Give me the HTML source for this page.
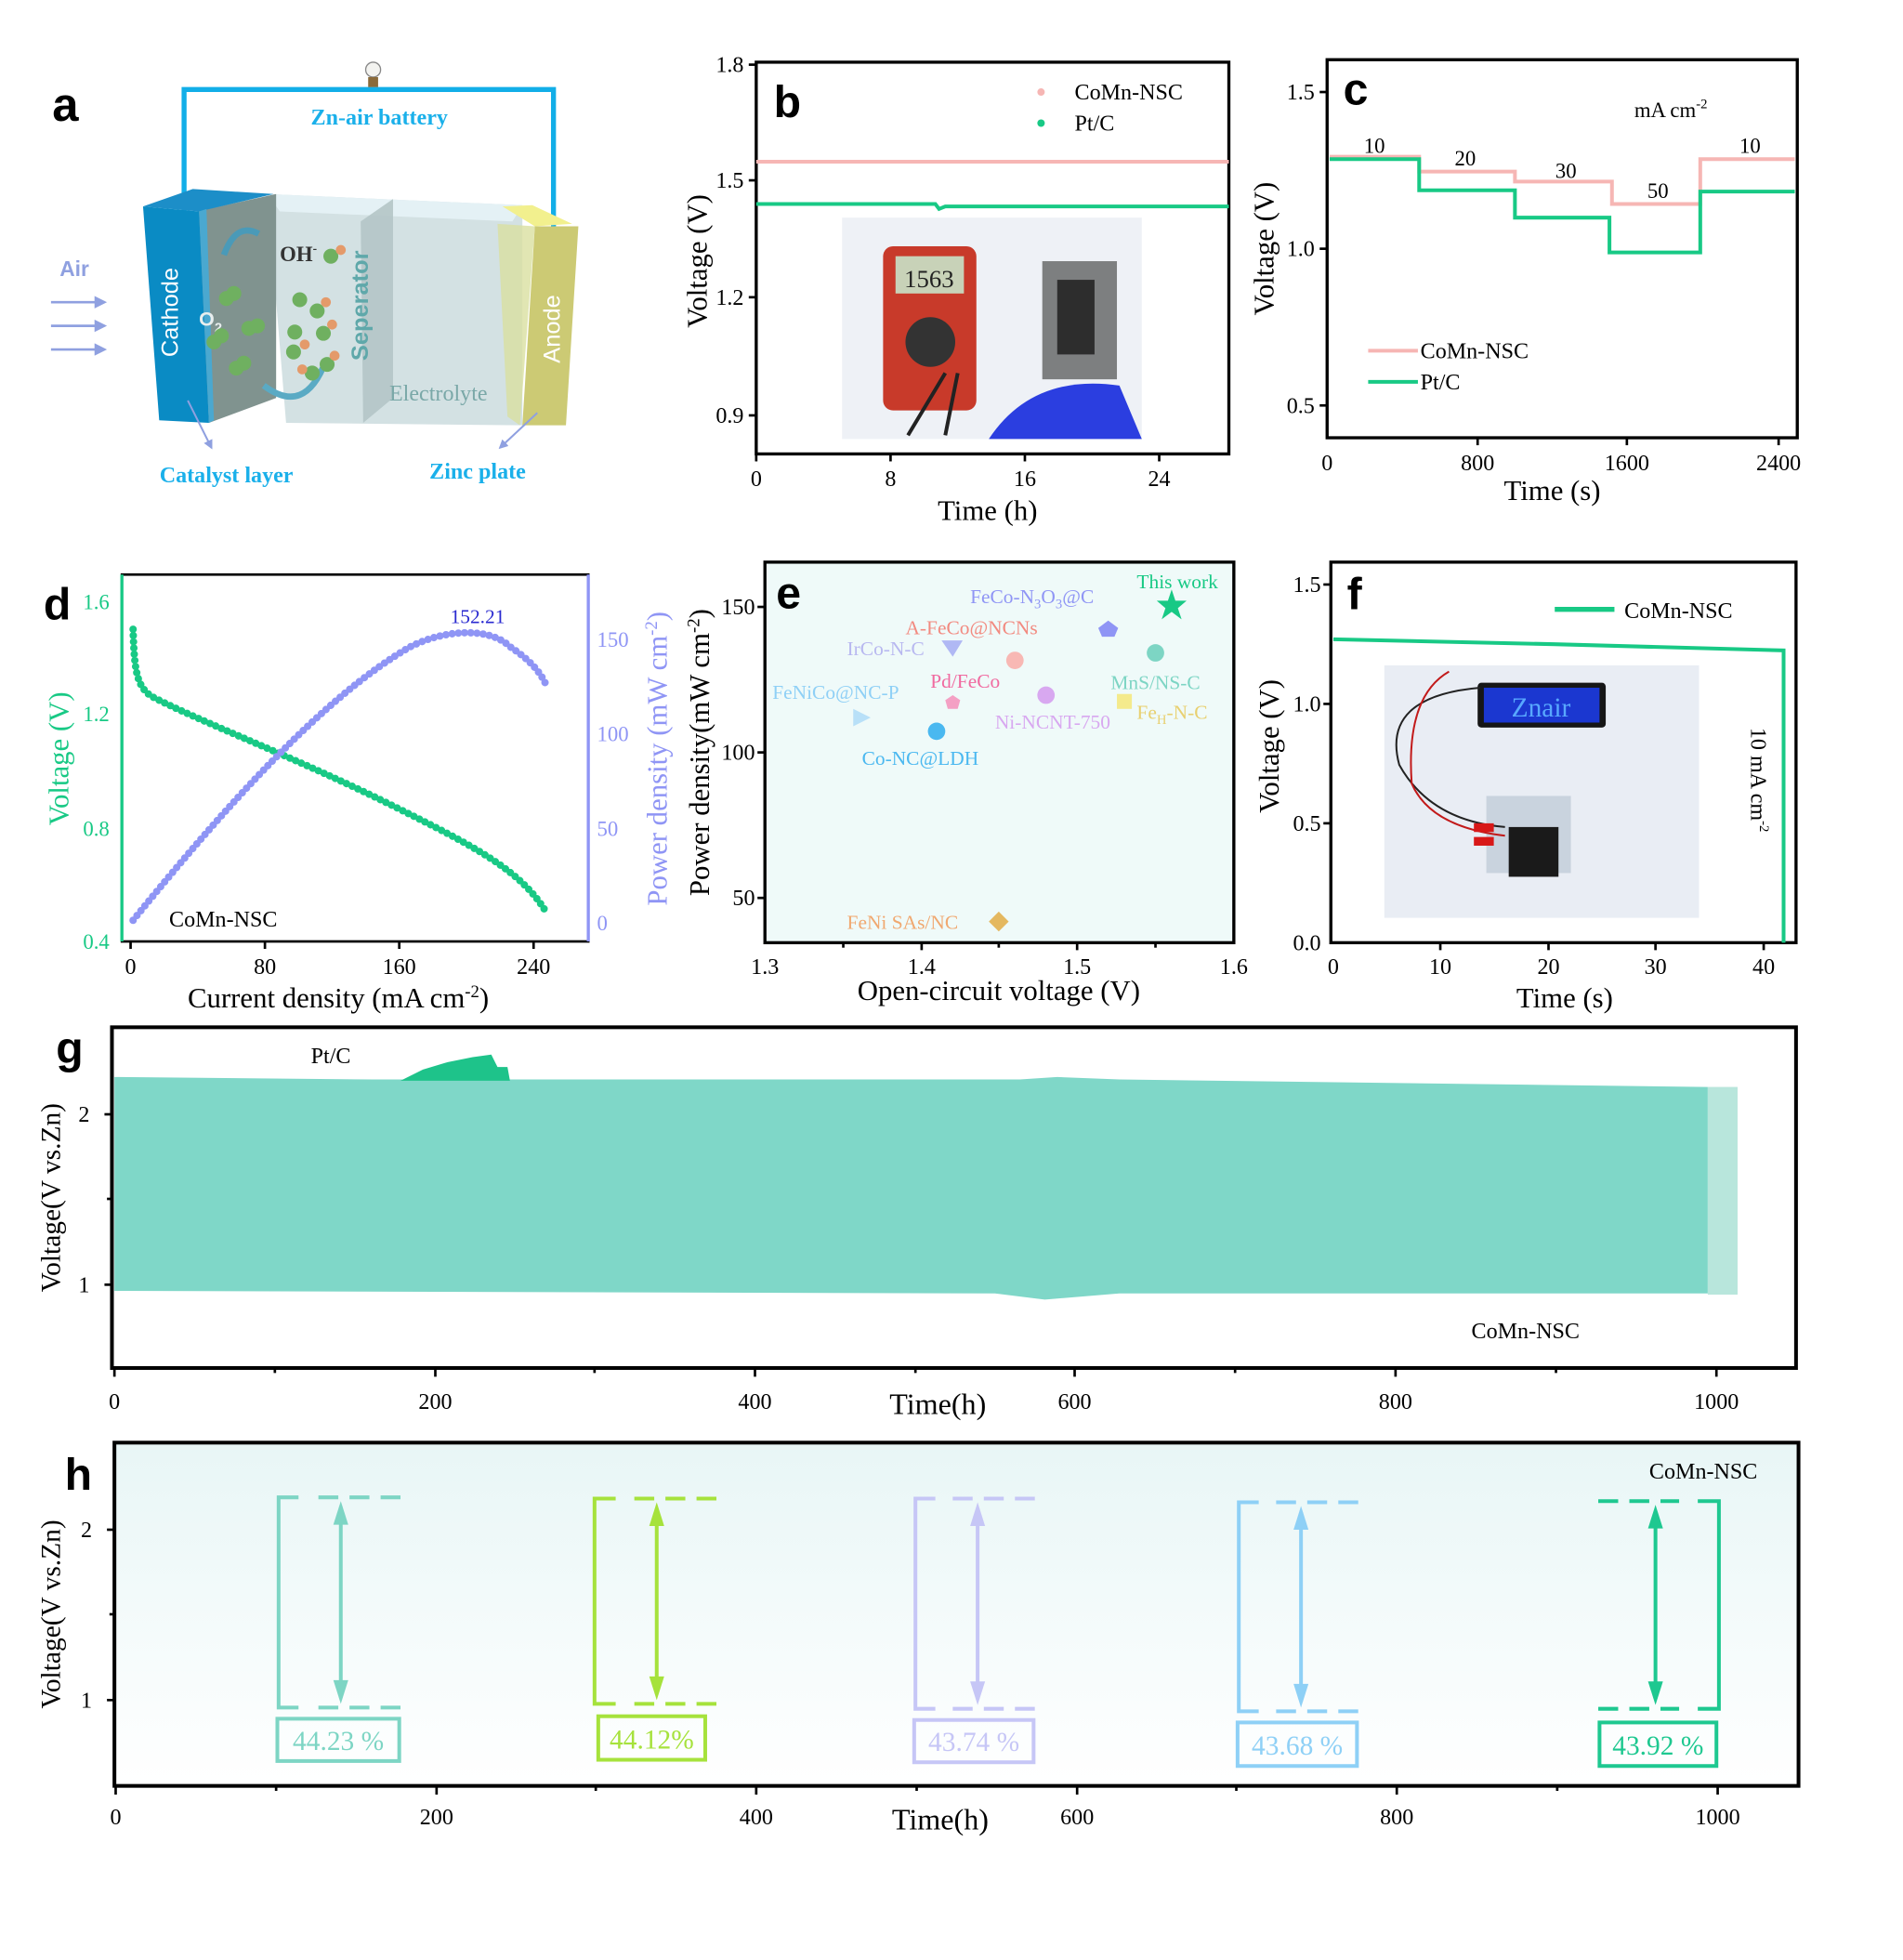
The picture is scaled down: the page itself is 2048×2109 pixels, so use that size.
<!DOCTYPE html>
<html><head><meta charset="utf-8"><style>
html,body{margin:0;padding:0;background:#fff}
svg{display:block}
text{font-family:"Liberation Serif",serif}
.s{font-family:"Liberation Sans",sans-serif;font-weight:bold}
</style></head><body>
<svg width="2048" height="2109" viewBox="0 0 1530 1576" preserveAspectRatio="none" xmlns="http://www.w3.org/2000/svg">
<defs>
<linearGradient id="hg" x1="0" y1="0" x2="0" y2="1"><stop offset="0" stop-color="#e8f6f6"/><stop offset="1" stop-color="#ffffff"/></linearGradient>
<marker id="ah" viewBox="0 0 10 10" refX="8" refY="5" markerWidth="5" markerHeight="5" orient="auto"><path d="M0,0L10,5L0,10z" fill="#8fa0e0"/></marker>
</defs>

<!-- ===== Panel a ===== -->
<text x="42" y="97" class="s" font-size="38">a</text>
<path d="M148,262 V72 H445 V290" fill="none" stroke="#12aee8" stroke-width="4"/>
<circle cx="300" cy="56" r="6" fill="#f3f3f0" stroke="#888" stroke-width="1"/>
<rect x="296" y="62" width="8" height="8" fill="#8a6a3a"/>
<text x="305" y="100" font-size="18" font-weight="bold" fill="#1ab0ea" text-anchor="middle">Zn-air battery</text>
<polygon points="215,156 420,165 420,342 230,340" fill="#d3e1e3"/>
<polygon points="215,156 420,165 412,178 225,170" fill="#e4f1f5"/>
<polygon points="158,170 222,156 222,320 168,340" fill="#80938f"/>
<polygon points="115,166 155,152 220,156 160,170" fill="#1c8ec8"/>
<polygon points="115,166 160,170 168,340 128,338" fill="#0a8bc4"/>
<polygon points="160,170 166,168 172,338 168,340" fill="#4aa8d0"/>
<text transform="translate(143,287) rotate(-90)" font-size="19" fill="#fff" style="font-family:'Liberation Sans',sans-serif">Cathode</text>
<polygon points="290,178 316,160 316,320 292,340" fill="#b4c5c7" opacity="0.9"/>
<text transform="translate(296,290) rotate(-90)" class="s" font-size="19" fill="#5fa8aa">Seperator</text>
<polygon points="404,166 428,165 460,180 430,182" fill="#f2f08e"/>
<polygon points="400,180 430,182 418,342 408,335" fill="#d9e0a0" opacity="0.8"/>
<polygon points="430,182 465,182 455,342 420,342" fill="#ccca74"/>
<text transform="translate(450,292) rotate(-90)" font-size="19" fill="#fff" style="font-family:'Liberation Sans',sans-serif">Anode</text>
<text x="313" y="322" font-size="18" fill="#7aa8a8">Electrolyte</text>
<text x="225" y="210" font-size="17" font-weight="bold" fill="#333">OH<tspan dy="-7" font-size="10">-</tspan></text>
<text x="160" y="262" class="s" font-size="16" fill="#e8eeee">O<tspan dy="5" font-size="11">2</tspan></text>
<path d="M208,188 Q190,178 180,205" fill="none" stroke="#4a9ab8" stroke-width="5"/>
<path d="M212,310 Q245,335 262,290" fill="none" stroke="#5aaac4" stroke-width="5"/>
<g fill="#6fb060">
<circle cx="182" cy="240" r="6"/><circle cx="188" cy="236" r="6"/><circle cx="200" cy="264" r="6"/><circle cx="207" cy="262" r="6"/>
<circle cx="172" cy="275" r="6"/><circle cx="178" cy="270" r="6"/><circle cx="190" cy="296" r="6"/><circle cx="196" cy="292" r="6"/>
<circle cx="241" cy="241" r="6"/><circle cx="255" cy="250" r="6"/><circle cx="237" cy="267" r="6"/><circle cx="260" cy="268" r="6"/>
<circle cx="266" cy="206" r="6"/><circle cx="251" cy="300" r="6"/><circle cx="263" cy="293" r="6"/><circle cx="236" cy="283" r="6"/>
</g>
<g fill="#e49a6a"><circle cx="274" cy="201" r="4"/><circle cx="262" cy="243" r="4"/><circle cx="245" cy="277" r="4"/><circle cx="267" cy="261" r="4"/><circle cx="269" cy="286" r="4"/><circle cx="243" cy="297" r="4"/></g>
<text x="48" y="222" class="s" font-size="17" fill="#8fa0e0">Air</text>
<g stroke="#8fa0e0" stroke-width="2" marker-end="url(#ah)"><line x1="41" y1="243" x2="84" y2="243"/><line x1="41" y1="262" x2="84" y2="262"/><line x1="41" y1="281" x2="84" y2="281"/></g>
<line x1="151" y1="322" x2="170" y2="360" stroke="#8fa0e0" stroke-width="1.5" marker-end="url(#ah)"/>
<line x1="432" y1="332" x2="402" y2="360" stroke="#8fa0e0" stroke-width="1.5" marker-end="url(#ah)"/>
<text x="182" y="388" font-size="18" font-weight="bold" fill="#1ab0ea" text-anchor="middle">Catalyst layer</text>
<text x="384" y="385" font-size="18" font-weight="bold" fill="#1ab0ea" text-anchor="middle">Zinc plate</text>

<!-- ===== Panel b ===== -->
<rect x="608" y="50" width="380" height="315" fill="none" stroke="#000" stroke-width="2.5"/>
<line x1="608" y1="130" x2="988" y2="130" stroke="#f6b6b4" stroke-width="3"/>
<path d="M608,164 H752 L755,168 L760,166 H988" stroke="#18c985" stroke-width="3" fill="none"/>
<rect x="677" y="175" width="241" height="178" fill="#eef1f6"/>
<rect x="710" y="198" width="75" height="132" rx="8" fill="#c83a2a"/>
<rect x="720" y="206" width="55" height="30" fill="#c8d2b8"/><text x="747" y="231" font-size="20" text-anchor="middle" fill="#222">1563</text>
<circle cx="748" cy="275" r="20" fill="#333"/>
<rect x="838" y="210" width="60" height="95" fill="#7d7f80"/><rect x="850" y="225" width="30" height="60" fill="#2d2d2d"/>
<path d="M795,353 Q830,300 900,310 L918,353 Z" fill="#2b3ee0"/>
<path d="M760,300 L730,350 M770,300 L760,350" stroke="#222" stroke-width="3"/>
<text x="864" y="80" font-size="18">CoMn-NSC</text><text x="864" y="105" font-size="18">Pt/C</text>
<circle cx="837" cy="74" r="3" fill="#f6b6b4"/><circle cx="837" cy="99" r="3" fill="#18c985"/>
<text x="622" y="94" class="s" font-size="36">b</text>
<g font-size="18" text-anchor="end"><text x="598" y="58">1.8</text><text x="598" y="151">1.5</text><text x="598" y="245">1.2</text><text x="598" y="340">0.9</text></g>
<g stroke="#000" stroke-width="2"><line x1="608" y1="52" x2="602" y2="52"/><line x1="608" y1="145" x2="602" y2="145"/><line x1="608" y1="239" x2="602" y2="239"/><line x1="608" y1="334" x2="602" y2="334"/>
<line x1="608" y1="365" x2="608" y2="371"/><line x1="716" y1="365" x2="716" y2="371"/><line x1="824" y1="365" x2="824" y2="371"/><line x1="932" y1="365" x2="932" y2="371"/></g>
<g font-size="18" text-anchor="middle"><text x="608" y="391">0</text><text x="716" y="391">8</text><text x="824" y="391">16</text><text x="932" y="391">24</text></g>
<text x="794" y="418" font-size="23" text-anchor="middle">Time (h)</text>
<text transform="translate(568,210) rotate(-90)" font-size="23" text-anchor="middle">Voltage (V)</text>

<!-- ===== Panel c ===== -->
<rect x="1067" y="48" width="378" height="304" fill="none" stroke="#000" stroke-width="2.5"/>
<path d="M1069,126 H1141 V138 H1218 V146 H1296 V164 H1367 V128 H1443" stroke="#f6b6b4" stroke-width="3" fill="none"/>
<path d="M1069,128 H1141 V153 H1218 V175 H1294 V203 H1367 V154 H1443" stroke="#18c985" stroke-width="3" fill="none"/>
<g font-size="17" text-anchor="middle"><text x="1105" y="123">10</text><text x="1178" y="133">20</text><text x="1259" y="143">30</text><text x="1333" y="159">50</text><text x="1407" y="123">10</text></g>
<text x="1314" y="94" font-size="17">mA cm<tspan dy="-7" font-size="11">-2</tspan></text>
<text x="1080" y="84" class="s" font-size="36">c</text>
<line x1="1100" y1="282" x2="1140" y2="282" stroke="#f6b6b4" stroke-width="3"/><line x1="1100" y1="307" x2="1140" y2="307" stroke="#18c985" stroke-width="3"/>
<text x="1142" y="288" font-size="18">CoMn-NSC</text><text x="1142" y="313" font-size="18">Pt/C</text>
<g stroke="#000" stroke-width="2"><line x1="1067" y1="74" x2="1061" y2="74"/><line x1="1067" y1="200" x2="1061" y2="200"/><line x1="1067" y1="326" x2="1061" y2="326"/>
<line x1="1188" y1="352" x2="1188" y2="358"/><line x1="1308" y1="352" x2="1308" y2="358"/><line x1="1430" y1="352" x2="1430" y2="358"/></g>
<g font-size="18" text-anchor="end"><text x="1057" y="80">1.5</text><text x="1057" y="206">1.0</text><text x="1057" y="332">0.5</text></g>
<g font-size="18" text-anchor="middle"><text x="1067" y="378">0</text><text x="1188" y="378">800</text><text x="1308" y="378">1600</text><text x="1430" y="378">2400</text></g>
<text x="1248" y="402" font-size="23" text-anchor="middle">Time (s)</text>
<text transform="translate(1024,200) rotate(-90)" font-size="23" text-anchor="middle">Voltage (V)</text>

<!-- ===== Panel d ===== -->
<rect x="98" y="462" width="375" height="295" fill="none" stroke="#000" stroke-width="2"/>
<line x1="98" y1="462" x2="98" y2="757" stroke="#18c985" stroke-width="2.5"/>
<line x1="473" y1="462" x2="473" y2="757" stroke="#8f95f5" stroke-width="2.5"/>
<path d="M107,506 C108,540 110,552 122,560 C160,580 240,610 320,650 C380,680 420,700 440,735" fill="none" stroke="#18c985" stroke-width="6" stroke-dasharray="0 5" stroke-linecap="round"/>
<path d="M107,740 C180,650 260,560 330,520 C360,505 395,505 410,520 C425,530 435,540 440,553" fill="none" stroke="#8f95f5" stroke-width="6" stroke-dasharray="0 5" stroke-linecap="round"/>
<text x="384" y="501" font-size="16" fill="#2a2ad0" text-anchor="middle">152.21</text>
<text x="136" y="745" font-size="18">CoMn-NSC</text>
<text x="35" y="498" class="s" font-size="36">d</text>
<g stroke="#000" stroke-width="2"><line x1="105" y1="757" x2="105" y2="763"/><line x1="213" y1="757" x2="213" y2="763"/><line x1="321" y1="757" x2="321" y2="763"/><line x1="429" y1="757" x2="429" y2="763"/></g>
<g font-size="17" fill="#18c985" text-anchor="end"><text x="88" y="490">1.6</text><text x="88" y="580">1.2</text><text x="88" y="672">0.8</text><text x="88" y="763">0.4</text></g>
<g font-size="17" fill="#8f95f5"><text x="480" y="520">150</text><text x="480" y="596">100</text><text x="480" y="672">50</text><text x="480" y="748">0</text></g>
<g font-size="18" text-anchor="middle"><text x="105" y="783">0</text><text x="213" y="783">80</text><text x="321" y="783">160</text><text x="429" y="783">240</text></g>
<text x="272" y="810" font-size="23" text-anchor="middle">Current density (mA cm<tspan dy="-8" font-size="14">-2</tspan><tspan dy="8">)</tspan></text>
<text transform="translate(55,610) rotate(-90)" font-size="23" fill="#18c985" text-anchor="middle">Voltage (V)</text>
<text transform="translate(536,610) rotate(-90)" font-size="23" fill="#8f95f5" text-anchor="middle">Power density (mW cm<tspan dy="-8" font-size="14">-2</tspan><tspan dy="8">)</tspan></text>

<!-- ===== Panel e ===== -->
<rect x="615" y="452" width="377" height="306" fill="#effaf9" stroke="#000" stroke-width="2.5"/>
<text x="624" y="489" class="s" font-size="36">e</text>
<text x="914" y="473" font-size="16" fill="#18c985">This work</text>
<polygon points="942,474 945,483 954,483 947,489 950,498 942,492 934,498 937,489 930,483 939,483" fill="#18c985"/>
<text x="780" y="485" font-size="16" fill="#8f95f5">FeCo-N<tspan dy="4" font-size="11">3</tspan><tspan dy="-4">O</tspan><tspan dy="4" font-size="11">3</tspan><tspan dy="-4">@C</tspan></text>
<polygon points="891,499 899,505 896,512 886,512 883,505" fill="#8f95f5"/>
<text x="728" y="510" font-size="16" fill="#f28a80">A-FeCo@NCNs</text>
<text x="681" y="527" font-size="16" fill="#b8b8f0">IrCo-N-C</text>
<polygon points="757,515 774,515 766,528" fill="#b0b8f4"/>
<circle cx="816" cy="531" r="7" fill="#f8b8b4"/>
<circle cx="929" cy="525" r="7" fill="#7dd5c4"/>
<text x="893" y="554" font-size="16" fill="#7dd5c4">MnS/NS-C</text>
<text x="748" y="553" font-size="16" fill="#f06aa0">Pd/FeCo</text>
<text x="621" y="562" font-size="16" fill="#8fd0f6">FeNiCo@NC-P</text>
<polygon points="766,559 772,563 770,570 762,570 760,563" fill="#f4a0c4"/>
<circle cx="841" cy="559" r="7" fill="#d8a8f0"/>
<rect x="898" y="558" width="12" height="12" fill="#f4ea8c"/>
<text x="914" y="578" font-size="16" fill="#e8d070">Fe<tspan dy="4" font-size="11">H</tspan><tspan dy="-4">-N-C</tspan></text>
<text x="800" y="586" font-size="16" fill="#d8a8f0">Ni-NCNT-750</text>
<polygon points="686,570 700,577 686,584" fill="#b8e0f8"/>
<circle cx="753" cy="588" r="7" fill="#4ab8f0"/>
<text x="693" y="615" font-size="16" fill="#4ab8f0">Co-NC@LDH</text>
<text x="681" y="747" font-size="16" fill="#f0a870">FeNi SAs/NC</text>
<polygon points="803,733 811,741 803,749 795,741" fill="#e4b860"/>
<g stroke="#000" stroke-width="2"><line x1="615" y1="488" x2="609" y2="488"/><line x1="615" y1="605" x2="609" y2="605"/><line x1="615" y1="722" x2="609" y2="722"/>
<line x1="741" y1="758" x2="741" y2="764"/><line x1="866" y1="758" x2="866" y2="764"/><line x1="678" y1="758" x2="678" y2="762"/><line x1="803" y1="758" x2="803" y2="762"/><line x1="929" y1="758" x2="929" y2="762"/></g>
<g font-size="18" text-anchor="end"><text x="607" y="494">150</text><text x="607" y="611">100</text><text x="607" y="728">50</text></g>
<g font-size="18" text-anchor="middle"><text x="615" y="783">1.3</text><text x="741" y="783">1.4</text><text x="866" y="783">1.5</text><text x="992" y="783">1.6</text></g>
<text x="803" y="804" font-size="23" text-anchor="middle">Open-circuit voltage (V)</text>
<text transform="translate(570,605) rotate(-90)" font-size="23" text-anchor="middle">Power density(mW cm<tspan dy="-8" font-size="14">-2</tspan><tspan dy="8">)</tspan></text>

<!-- ===== Panel f ===== -->
<rect x="1070" y="452" width="374" height="306" fill="none" stroke="#000" stroke-width="2.5"/>
<path d="M1072,514 L1250,518 L1434,523 V758" fill="none" stroke="#18c985" stroke-width="3"/>
<rect x="1113" y="535" width="253" height="203" fill="#e9edf4"/>
<rect x="1188" y="549" width="103" height="36" rx="3" fill="#161616"/>
<rect x="1193" y="553" width="93" height="28" fill="#1b37d0"/>
<text x="1239" y="576" font-size="22" fill="#58a8ff" text-anchor="middle" font-family="Liberation Mono">Znair</text>
<rect x="1195" y="640" width="68" height="62" fill="#c9d3de"/><rect x="1213" y="665" width="40" height="40" fill="#1a1a1a"/>
<path d="M1190,553 Q1110,560 1125,615 Q1150,660 1210,665" fill="none" stroke="#222" stroke-width="1.5"/>
<path d="M1165,540 Q1130,560 1135,630 Q1150,665 1210,672" fill="none" stroke="#c21a1a" stroke-width="1.5"/>
<rect x="1185" y="662" width="16" height="7" fill="#d81818"/><rect x="1185" y="673" width="16" height="7" fill="#d81818"/>
<line x1="1250" y1="490" x2="1298" y2="490" stroke="#18c985" stroke-width="4"/>
<text x="1306" y="497" font-size="18">CoMn-NSC</text>
<text transform="translate(1408,585) rotate(90)" font-size="18">10 mA cm<tspan dy="-7" font-size="11">-2</tspan></text>
<text x="1083" y="490" class="s" font-size="36">f</text>
<g stroke="#000" stroke-width="2"><line x1="1070" y1="470" x2="1064" y2="470"/><line x1="1070" y1="566" x2="1064" y2="566"/><line x1="1070" y1="662" x2="1064" y2="662"/>
<line x1="1158" y1="758" x2="1158" y2="764"/><line x1="1245" y1="758" x2="1245" y2="764"/><line x1="1331" y1="758" x2="1331" y2="764"/><line x1="1418" y1="758" x2="1418" y2="764"/></g>
<g font-size="18" text-anchor="end"><text x="1062" y="476">1.5</text><text x="1062" y="572">1.0</text><text x="1062" y="668">0.5</text><text x="1062" y="764">0.0</text></g>
<g font-size="18" text-anchor="middle"><text x="1072" y="783">0</text><text x="1158" y="783">10</text><text x="1245" y="783">20</text><text x="1331" y="783">30</text><text x="1418" y="783">40</text></g>
<text x="1258" y="810" font-size="23" text-anchor="middle">Time (s)</text>
<text transform="translate(1028,600) rotate(-90)" font-size="23" text-anchor="middle">Voltage (V)</text>

<!-- ===== Panel g ===== -->
<rect x="1373" y="874" width="24" height="167" fill="#b8e6dc"/>
<path d="M92,866 L300,868 L600,868 L820,868 L850,866 L900,868 L1373,874 V1040 L900,1040 L840,1045 L800,1040 L92,1038 Z" fill="#7fd7c8"/>
<path d="M322,869 L340,860 L360,854 L380,850 L395,848 L400,858 L408,858 L410,869 Z" fill="#1ec38a"/>
<rect x="90" y="826" width="1354" height="274" fill="none" stroke="#000" stroke-width="3"/>
<text x="250" y="855" font-size="18">Pt/C</text>
<text x="1183" y="1076" font-size="18">CoMn-NSC</text>
<text x="45" y="855" class="s" font-size="36">g</text>
<g font-size="18" text-anchor="end"><text x="72" y="902">2</text><text x="72" y="1039">1</text></g>
<g stroke="#000" stroke-width="2"><line x1="90" y1="896" x2="84" y2="896"/><line x1="90" y1="1033" x2="84" y2="1033"/><line x1="90" y1="964" x2="86" y2="964"/>
<line x1="92" y1="1100" x2="92" y2="1107"/><line x1="221" y1="1100" x2="221" y2="1104"/><line x1="350" y1="1100" x2="350" y2="1107"/><line x1="478" y1="1100" x2="478" y2="1104"/><line x1="607" y1="1100" x2="607" y2="1107"/><line x1="736" y1="1100" x2="736" y2="1104"/><line x1="864" y1="1100" x2="864" y2="1107"/><line x1="993" y1="1100" x2="993" y2="1104"/><line x1="1122" y1="1100" x2="1122" y2="1107"/><line x1="1251" y1="1100" x2="1251" y2="1104"/><line x1="1380" y1="1100" x2="1380" y2="1107"/></g>
<g font-size="18" text-anchor="middle"><text x="92" y="1133">0</text><text x="350" y="1133">200</text><text x="607" y="1133">400</text><text x="864" y="1133">600</text><text x="1122" y="1133">800</text><text x="1380" y="1133">1000</text></g>
<text x="754" y="1137" font-size="24" text-anchor="middle">Time(h)</text>
<text transform="translate(48,963) rotate(-90)" font-size="22" text-anchor="middle">Voltage(V vs.Zn)</text>

<!-- ===== Panel h ===== -->
<rect x="92" y="1160" width="1354" height="276" fill="url(#hg)" stroke="#000" stroke-width="3"/>
<text x="52" y="1198" class="s" font-size="36">h</text>
<text x="1326" y="1189" font-size="18">CoMn-NSC</text>
<g fill="none" stroke-width="3">
<g stroke="#7dd5c4"><path d="M240,1204 H224 V1373 H240" /><path d="M256,1204 H322 M256,1373 H322" stroke-dasharray="16 9"/><line x1="274" y1="1212" x2="274" y2="1365"/><rect x="223" y="1382" width="98" height="34"/></g>
<g stroke="#a6e23c"><path d="M495,1205 H478 V1370 H495"/><path d="M510,1205 H578 M510,1370 H578" stroke-dasharray="16 9"/><line x1="528" y1="1213" x2="528" y2="1362"/><rect x="481" y="1380" width="86" height="35"/></g>
<g stroke="#c6c6f6"><path d="M752,1205 H736 V1374 H752"/><path d="M766,1205 H834 M766,1374 H834" stroke-dasharray="16 9"/><line x1="786" y1="1213" x2="786" y2="1366"/><rect x="735" y="1383" width="96" height="34"/></g>
<g stroke="#8ed0f6"><path d="M1012,1208 H996 V1376 H1012"/><path d="M1026,1208 H1094 M1026,1376 H1094" stroke-dasharray="16 9"/><line x1="1046" y1="1216" x2="1046" y2="1368"/><rect x="995" y="1385" width="96" height="35"/></g>
<g stroke="#1ec890"><path d="M1365,1207 H1382 V1374 H1365"/><path d="M1285,1207 H1350 M1285,1374 H1350" stroke-dasharray="16 9"/><line x1="1331" y1="1215" x2="1331" y2="1366"/><rect x="1286" y="1385" width="94" height="35"/></g>
</g>
<polygon points="274,1207 268,1226 280,1226" fill="#7dd5c4"/><polygon points="274,1370 268,1351 280,1351" fill="#7dd5c4"/>
<polygon points="528,1208 522,1227 534,1227" fill="#a6e23c"/><polygon points="528,1367 522,1348 534,1348" fill="#a6e23c"/>
<polygon points="786,1208 780,1227 792,1227" fill="#c6c6f6"/><polygon points="786,1371 780,1352 792,1352" fill="#c6c6f6"/>
<polygon points="1046,1211 1040,1230 1052,1230" fill="#8ed0f6"/><polygon points="1046,1373 1040,1354 1052,1354" fill="#8ed0f6"/>
<polygon points="1331,1210 1325,1229 1337,1229" fill="#1ec890"/><polygon points="1331,1371 1325,1352 1337,1352" fill="#1ec890"/>
<text x="272" y="1407" font-size="22" fill="#7dd5c4" text-anchor="middle">44.23 %</text>
<text x="524" y="1406" font-size="22" fill="#a6e23c" text-anchor="middle">44.12%</text>
<text x="783" y="1408" font-size="22" fill="#c6c6f6" text-anchor="middle">43.74 %</text>
<text x="1043" y="1411" font-size="22" fill="#8ed0f6" text-anchor="middle">43.68 %</text>
<text x="1333" y="1411" font-size="22" fill="#1ec890" text-anchor="middle">43.92 %</text>
<g font-size="18" text-anchor="end"><text x="74" y="1236">2</text><text x="74" y="1373">1</text></g>
<g stroke="#000" stroke-width="2"><line x1="92" y1="1230" x2="86" y2="1230"/><line x1="92" y1="1367" x2="86" y2="1367"/><line x1="92" y1="1298" x2="88" y2="1298"/>
<line x1="93" y1="1436" x2="93" y2="1443"/><line x1="222" y1="1436" x2="222" y2="1440"/><line x1="351" y1="1436" x2="351" y2="1443"/><line x1="479" y1="1436" x2="479" y2="1440"/><line x1="608" y1="1436" x2="608" y2="1443"/><line x1="737" y1="1436" x2="737" y2="1440"/><line x1="866" y1="1436" x2="866" y2="1443"/><line x1="994" y1="1436" x2="994" y2="1440"/><line x1="1123" y1="1436" x2="1123" y2="1443"/><line x1="1252" y1="1436" x2="1252" y2="1440"/><line x1="1381" y1="1436" x2="1381" y2="1443"/></g>
<g font-size="18" text-anchor="middle"><text x="93" y="1467">0</text><text x="351" y="1467">200</text><text x="608" y="1467">400</text><text x="866" y="1467">600</text><text x="1123" y="1467">800</text><text x="1381" y="1467">1000</text></g>
<text x="756" y="1471" font-size="24" text-anchor="middle">Time(h)</text>
<text transform="translate(48,1298) rotate(-90)" font-size="22" text-anchor="middle">Voltage(V vs.Zn)</text>
</svg>
</body></html>
